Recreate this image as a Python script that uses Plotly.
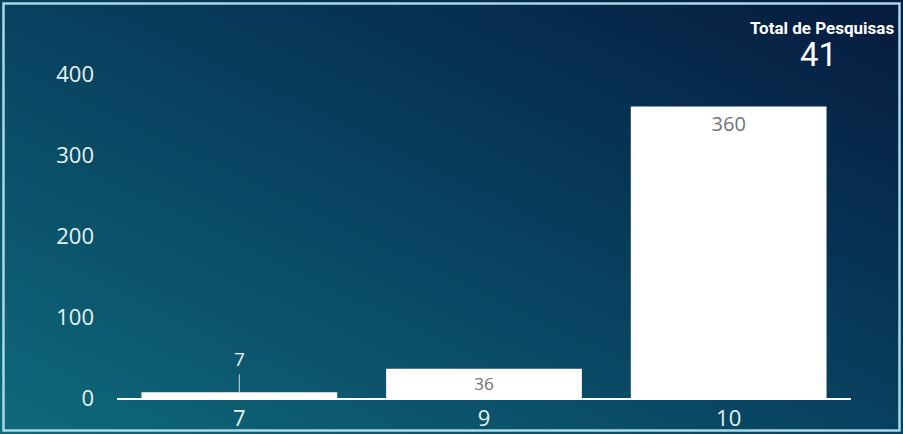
import plotly.graph_objects as go
import base64

categories = ["7", "9", "10"]
values = [7, 36, 360]
total_label = "Total de Pesquisas"
total_value = "41"
y_ticks = [0, 100, 200, 300, 400]

W, H = 903, 434
ML, MR, MT, MB = 117, 52, 58, 36
PW, PH = W - ML - MR, H - MT - MB

svg = f'''<svg xmlns="http://www.w3.org/2000/svg" width="{W}" height="{H}" viewBox="0 0 {W} {H}" preserveAspectRatio="none">
<defs><linearGradient id="g" x1="0" y1="1" x2="1" y2="0">
<stop offset="0" stop-color="#0f6a7a"/>
<stop offset="0.5" stop-color="#08415f"/>
<stop offset="1" stop-color="#061a3e"/>
</linearGradient></defs>
<rect x="0" y="0" width="{W}" height="{H}" fill="url(#g)"/>
<rect x="3.5" y="3.5" width="{W-7}" height="{H-7}" fill="none" stroke="#a9d8e6" stroke-width="2.5"/>
</svg>'''
src = "data:image/svg+xml;base64," + base64.b64encode(svg.encode()).decode()

texts = [str(v) if v >= 20 else "" for v in values]

fig = go.Figure(go.Bar(
    x=categories, y=values, text=texts,
    textposition="inside", insidetextanchor="end", textangle=0,
    textfont=dict(color="#727272", size=20, family="Open Sans"),
    marker=dict(color="#ffffff", line=dict(width=0)),
    cliponaxis=False,
))

for i, v in enumerate(values):
    if v < 20:
        fig.add_annotation(x=i, y=v, text=str(v), showarrow=True, arrowhead=0,
                           arrowwidth=1, arrowcolor="#c8d8de", ax=0, ay=-18,
                           font=dict(color="#e6f2f5", size=19, family="Open Sans"),
                           yanchor="bottom")

fig.add_annotation(xref="paper", yref="paper", x=(896 - ML) / PW, y=1 + (MT - 28) / PH,
                   xanchor="right", yanchor="middle", showarrow=False,
                   text="<b>" + total_label + "</b>",
                   font=dict(color="#ffffff", size=17, family="Roboto"))
fig.add_annotation(xref="paper", yref="paper", x=(818 - ML) / PW, y=1 + (MT - 54) / PH,
                   xanchor="center", yanchor="middle", showarrow=False,
                   text=total_value,
                   font=dict(color="#ffffff", size=33, family="Roboto"))

fig.add_layout_image(dict(source=src, xref="paper", yref="paper",
                          x=-ML / PW, y=1 + MT / PH, sizex=W / PW, sizey=H / PH,
                          xanchor="left", yanchor="top", sizing="stretch", layer="below"))

fig.update_layout(
    width=W, height=H, autosize=False,
    margin=dict(l=ML, r=MR, t=MT, b=MB, autoexpand=False),
    paper_bgcolor="#08415f", plot_bgcolor="rgba(0,0,0,0)",
    bargap=0.2, showlegend=False,
    font=dict(family="Open Sans", color="#e6f2f5"),
    xaxis=dict(type="category", range=[-0.5, 2.5], showgrid=False, showline=True,
               linecolor="#ffffff", linewidth=2, ticks="", automargin=False,
               tickfont=dict(size=22, color="#e6f2f5"), zeroline=False),
    yaxis=dict(range=[0, 420], tickvals=y_ticks, showgrid=False, zeroline=False,
               showline=False, ticks="", ticklabelstandoff=22, automargin=False,
               tickfont=dict(size=22, color="#e6f2f5")),
)

post = (
    "document.documentElement.style.margin='0';"
    "document.body.style.margin='0';"
    "document.documentElement.style.overflow='hidden';"
    "document.body.style.overflow='hidden';"
)
fig.write_html("out.html", post_script=post,
               config={"displayModeBar": False, "responsive": False},
               default_width="903px", default_height="434px")
